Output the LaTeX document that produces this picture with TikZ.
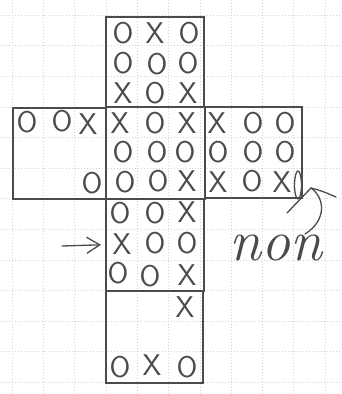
\documentclass[tikz,border=0pt]{standalone}
\usetikzlibrary{arrows.meta}
\definecolor{pencil}{RGB}{75,75,75}
\definecolor{gridc}{RGB}{210,210,210}
\begin{document}
\begin{tikzpicture}[x=1pt,y=-1pt,
  face/.style={draw=pencil, line width=1.6pt, inner sep=0pt, anchor=north west},
  mk/.style={text=pencil, font=\sffamily\fontsize{30}{30}\selectfont, inner sep=0pt, text height=20.8pt, text depth=0pt},
  gridline/.style={draw=gridc, line width=0.5pt, dash pattern=on 1pt off 2pt},
  pen/.style={draw=pencil, line width=1.3pt, line cap=round, line join=round}]
\useasboundingbox (0,0) rectangle (342,394);
\fill[white] (0,0) rectangle (342,394);
% grid paper
\foreach \k in {0,...,10} { \draw[gridline] ({12+31.3*\k},0) -- ({12+31.3*\k},394); }
\foreach \k in {0,...,12} { \draw[gridline] (0,{15+30.6*\k}) -- (342,{15+30.6*\k}); }
% faces
\node[face, minimum width=98pt, minimum height=90pt] (top) at (105,16) {};
\node[face, minimum width=93pt, minimum height=91pt] (left) at (12,107) {};
\node[face, minimum width=99pt, minimum height=92pt] (center) at (105,106) {};
\node[face, minimum width=97pt, minimum height=91pt] (right) at (204,106) {};
\node[face, minimum width=98pt, minimum height=92pt] (below) at (105,198) {};
\node[face, minimum width=97pt, minimum height=92pt] (bottom) at (105,290) {};
% top face
\node[mk] (t11) at (123,33) {O}; \node[mk] (t12) at (155,33) {X}; \node[mk] (t13) at (189,33) {O};
\node[mk] (t21) at (123,63) {O}; \node[mk] (t22) at (157,64) {O}; \node[mk] (t23) at (188,63) {O};
\node[mk] (t31) at (123,93) {X}; \node[mk] (t32) at (155,93) {O}; \node[mk] (t33) at (188,93) {X};
% left face
\node[mk] (l11) at (27,122) {O}; \node[mk] (l12) at (62,121) {O}; \node[mk] (l13) at (88,124) {X};
\node[mk] (l33) at (92,183) {O};
% center face
\node[mk] (c11) at (120,123) {X}; \node[mk] (c12) at (155,123) {O}; \node[mk] (c13) at (187,123) {X};
\node[mk] (c21) at (123,152) {O}; \node[mk] (c22) at (157,152) {O}; \node[mk] (c23) at (185,152) {O};
\node[mk] (c31) at (125,182) {O}; \node[mk] (c32) at (158,181) {O}; \node[mk] (c33) at (187,181) {X};
% right face
\node[mk] (r11) at (217,123) {X}; \node[mk] (r12) at (253,123) {O}; \node[mk] (r13) at (285,123) {O};
\node[mk] (r21) at (218,152) {O}; \node[mk] (r22) at (253,152) {O}; \node[mk] (r23) at (285,152) {O};
\node[mk] (r31) at (218,182) {X}; \node[mk] (r32) at (252,181) {O}; \node[mk] (r33) at (282,182) {X};
\draw[pen] (298,185) ellipse [x radius=3.5, y radius=14];
% face below center
\node[mk] (b11) at (120,213) {O}; \node[mk] (b12) at (155,213) {O}; \node[mk] (b13) at (187,212) {X};
\node[mk] (b21) at (122,244) {X}; \node[mk] (b22) at (155,243) {O}; \node[mk] (b23) at (187,243) {O};
\node[mk] (b31) at (118,273) {O}; \node[mk] (b32) at (150,276) {O}; \node[mk] (b33) at (187,275) {X};
% bottom face
\node[mk] (d13) at (185,307) {X};
\node[mk] (d31) at (120,367) {O}; \node[mk] (d32) at (152,365) {X}; \node[mk] (d33) at (187,367) {O};
% arrow on the left
\coordinate (as) at (62,246);
\draw[pen, -{Straight Barb[length=13pt,width=16pt,line width=1.3pt]}] (as) -- ([xshift=-4pt]below.west);
% "non" with curved arrow
\node[text=pencil, font=\itshape\fontsize{58}{58}\selectfont, inner sep=0pt] (non) at (276,248) {non};
\coordinate (ns) at (305,234);
\coordinate (ap) at (311,188);
\draw[pen] (ns) .. controls (327,220) and (325,198) .. (ap);
\draw[pen] (ap) .. controls (322,191) .. (336,197);
\draw[pen] (ap) -- (287,213);
\end{tikzpicture}
\end{document}
